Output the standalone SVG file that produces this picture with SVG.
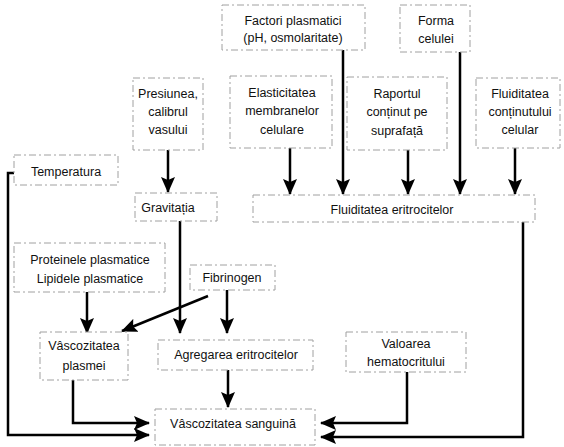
<svg xmlns="http://www.w3.org/2000/svg" width="564" height="447" viewBox="0 0 564 447">
<style>
.box{fill:#fff;stroke:#a0a0a0;stroke-width:1;stroke-dasharray:7 3 2 3}
.t{font-family:"Liberation Sans",Arial,sans-serif;font-size:12.5px;fill:#111;text-anchor:middle}
.c{fill:none;stroke:#000;stroke-width:2.5;marker-end:url(#ah)}
</style>
<defs>
<marker id="ah" markerUnits="userSpaceOnUse" viewBox="0 0 16 14" refX="15" refY="7" markerWidth="16" markerHeight="14" orient="auto">
<path d="M0,0 L16,7 L0,14 L3,7 Z" fill="#000"/>
</marker>
</defs>
<rect width="564" height="447" fill="#fff"/>
<g id="connectors">
<path class="c" d="M343,50 V194"/>
<path class="c" d="M460,52 V194"/>
<path class="c" d="M290,148 V194"/>
<path class="c" d="M408,150 V194"/>
<path class="c" d="M515,148 V194"/>
<path class="c" d="M168,150 V192"/>
<path class="c" d="M180,221 V333"/>
<path class="c" d="M227,290 V333"/>
<path class="c" d="M208,296 L122,331"/>
<path class="c" d="M87,292 V333"/>
<path class="c" d="M20,173 H8 V435 H149"/>
<path class="c" d="M73,380 V423 H149"/>
<path class="c" d="M228,370 V407"/>
<path class="c" d="M407,372 V423 H321"/>
<path class="c" d="M523,222 V437 H321"/>
</g>
<g id="factori"><rect class="box" x="222" y="5" width="143" height="45"/><text class="t" x="293" y="25">Factori plasmatici</text><text class="t" x="293" y="42">(pH, osmolaritate)</text></g>
<g id="forma"><rect class="box" x="400" y="5" width="70" height="47"/><text class="t" x="436" y="25">Forma</text><text class="t" x="436" y="43">celulei</text></g>
<g id="presiunea"><rect class="box" x="133" y="78" width="70" height="72"/><text class="t" x="168" y="98">Presiunea,</text><text class="t" x="168" y="116">calibrul</text><text class="t" x="168" y="134">vasului</text></g>
<g id="elasticitatea"><rect class="box" x="230" y="76" width="102" height="72"/><text class="t" x="282" y="97">Elasticitatea</text><text class="t" x="282" y="115">membranelor</text><text class="t" x="282" y="134">celulare</text></g>
<g id="raportul"><rect class="box" x="347" y="77" width="100" height="73"/><text class="t" x="397" y="98">Raportul</text><text class="t" x="397" y="116">conținut pe</text><text class="t" x="397" y="135">suprafață</text></g>
<g id="fluiditatea-continut"><rect class="box" x="476" y="78" width="84" height="70"/><text class="t" x="520" y="98">Fluiditatea</text><text class="t" x="520" y="116">conținutului</text><text class="t" x="520" y="134">celular</text></g>
<g id="temperatura"><rect class="box" x="14" y="155" width="104" height="30"/><text class="t" x="66" y="176">Temperatura</text></g>
<g id="gravitatia"><rect class="box" x="135" y="193" width="82" height="28"/><text class="t" x="168" y="212">Gravitația</text></g>
<g id="fluiditatea-eritrocitelor"><rect class="box" x="253" y="195" width="282" height="27"/><text class="t" x="392" y="214">Fluiditatea eritrocitelor</text></g>
<g id="proteinele"><rect class="box" x="14" y="243" width="151" height="49"/><text class="t" x="90" y="264">Proteinele plasmatice</text><text class="t" x="90" y="283">Lipidele plasmatice</text></g>
<g id="fibrinogen"><rect class="box" x="190" y="265" width="85" height="25"/><text class="t" x="232" y="282">Fibrinogen</text></g>
<g id="vascozitatea-plasmei"><rect class="box" x="40" y="332" width="88" height="48"/><text class="t" x="84" y="350">Vâscozitatea</text><text class="t" x="84" y="370">plasmei</text></g>
<g id="agregarea"><rect class="box" x="158" y="340" width="155" height="30"/><text class="t" x="236" y="359">Agregarea eritrocitelor</text></g>
<g id="valoarea"><rect class="box" x="346" y="332" width="120" height="40"/><text class="t" x="406" y="348">Valoarea</text><text class="t" x="406" y="366">hematocritului</text></g>
<g id="vascozitatea-sanguina"><rect class="box" x="155" y="409" width="160" height="36"/><text class="t" x="233" y="428">Vâscozitatea sanguină</text></g>
</svg>
